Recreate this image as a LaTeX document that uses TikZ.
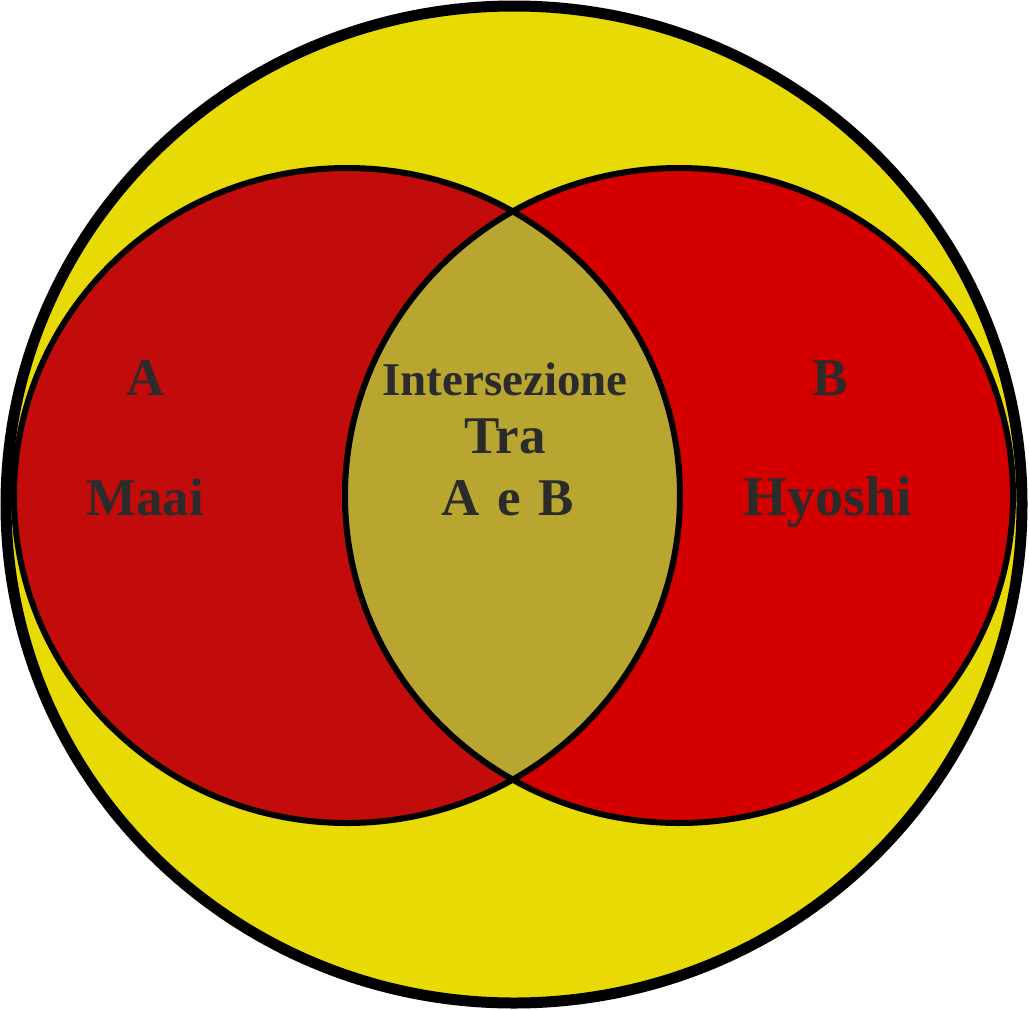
\documentclass[tikz,border=0pt]{standalone}
\usepackage{fontspec}
\setmainfont{Liberation Serif}

\begin{document}
\begin{tikzpicture}[x=1pt, y=-1pt,
    setLabel/.style={text=textColour, font=\bfseries\fontsize{53}{60}\selectfont, anchor=base, inner sep=0pt},
    interLabel/.style={setLabel, font=\bfseries\fontsize{47}{54}\selectfont}]

    % Define the colours
    \definecolor{borderColour}{HTML}{000000}
    \definecolor{universeColour}{HTML}{E8DA05}
    \definecolor{setAColour}{HTML}{C20C0C}
    \definecolor{setBColour}{HTML}{D40000}
    \definecolor{interColour}{HTML}{B8A630}
    \definecolor{textColour}{HTML}{2B2B2B}

    % Define the radii
    \def\outerRx{508}
    \def\outerRy{498.5}
    \def\setRx{333}
    \def\setRy{327.5}

    \useasboundingbox (0,0) rectangle (1029,1010);

    % Define the centres
    \coordinate (O) at (514,504.5);
    \coordinate (CA) at (347,495.5);
    \coordinate (CB) at (679,495.5);

    % Draw the universe
    \fill[universeColour] (O) ellipse [x radius=\outerRx, y radius=\outerRy];

    % Draw the two sets
    \fill[setAColour] (CA) ellipse [x radius=\setRx, y radius=\setRy];
    \fill[setBColour] (CB) ellipse [x radius=\setRx+1, y radius=\setRy];

    % Draw the intersection
    \begin{scope}
        \clip (CA) ellipse [x radius=\setRx, y radius=\setRy];
        \fill[interColour] (CB) ellipse [x radius=\setRx+1, y radius=\setRy];
    \end{scope}

    % Draw the borders
    \draw[borderColour, line width=6] (CA) ellipse [x radius=\setRx, y radius=\setRy];
    \draw[borderColour, line width=6] (CB) ellipse [x radius=\setRx+1, y radius=\setRy];
    \draw[borderColour, line width=11] (O) ellipse [x radius=\outerRx, y radius=\outerRy];

    % Label the sets
    \node[setLabel] (A) at (146,395) {A};
    \node[setLabel] (Maai) at (145,515) {Maai};
    \node[setLabel] (B) at (830,395) {B};
    \node[setLabel, font=\bfseries\fontsize{56}{60}\selectfont] (Hyoshi) at (828,515) {Hyoshi};

    % Label the intersection
    \node[interLabel] (inter) at (505,395) {Intersezione};
    \node[setLabel] (tra) at (505,453) {Tra};
    \node[setLabel] (AeB) at (508,515) {A\,\,e\,\,B};

\end{tikzpicture}
\end{document}
